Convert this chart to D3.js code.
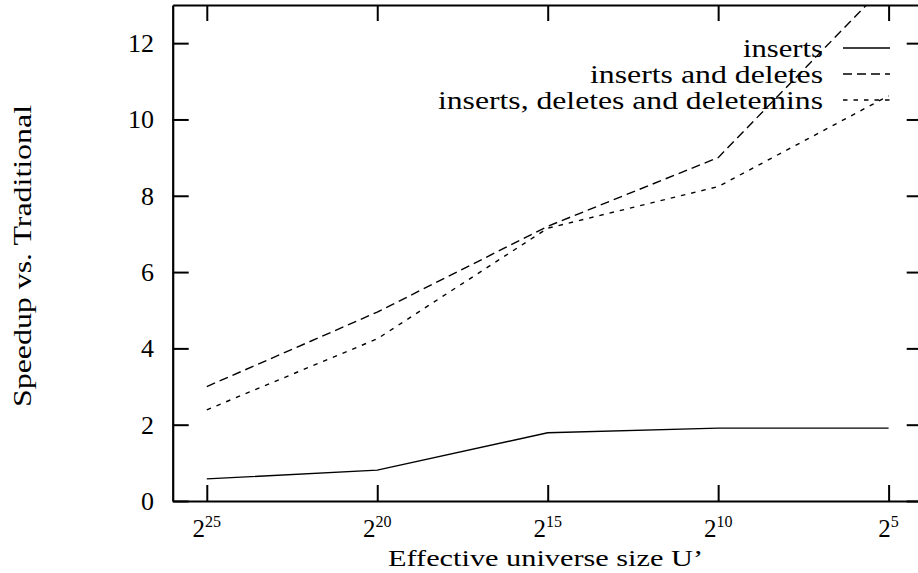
<!DOCTYPE html>
<html>
<head>
<meta charset="utf-8">
<script src="https://cdn.jsdelivr.net/npm/d3@7"></script>
<style>
  body { margin: 0; background: #fff; }
</style>
</head>
<body>
<svg id="chart" width="918" height="573"></svg>
<script>
// x positions are log2 of universe size
var exponents = [25, 20, 15, 10, 5];
var yTicks = [0, 2, 4, 6, 8, 10, 12];

var inserts = [0.58, 0.81, 1.79, 1.91, 1.91];
var insertsDeletes = [3.0, 4.95, 7.2, 9.0, 13.6];
var insertsDeletesMins = [2.39, 4.25, 7.15, 8.24, 10.62];

var seriesNames = ["inserts", "inserts and deletes", "inserts, deletes and deletemins"];
var seriesDash = [null, "9,5", "4.5,6"];

var FONT = "'Liberation Serif', 'Times New Roman', Times, 'DejaVu Serif', serif";

var margin = { left: 172.7, right: 922.7, top: 5, bottom: 501 };

var svg = d3.select("#chart");

var x = d3.scaleLinear().domain([26, 4]).range([margin.left, margin.right]);
var y = d3.scaleLinear().domain([0, 13]).range([margin.bottom, margin.top]);

svg.append("clipPath").attr("id", "plotclip")
  .append("rect")
  .attr("x", margin.left).attr("y", margin.top)
  .attr("width", margin.right - margin.left)
  .attr("height", margin.bottom - margin.top);

// axes, ticks pointing inward
var xAxisB = d3.axisBottom(x).tickValues(exponents).tickSizeInner(-16).tickSizeOuter(0).tickFormat("");
var xAxisT = d3.axisTop(x).tickValues(exponents).tickSizeInner(-16).tickSizeOuter(0).tickFormat("");
var yAxisL = d3.axisLeft(y).tickValues(yTicks).tickSizeInner(-16).tickSizeOuter(0).tickFormat("");
var yAxisR = d3.axisRight(y).tickValues(yTicks).tickSizeInner(-16).tickSizeOuter(0).tickFormat("");

function styleAxis(g) {
  g.selectAll("path, line").attr("stroke", "#000").attr("stroke-width", 2);
  g.select(".domain").attr("stroke-width", 2.2);
}

svg.append("g").attr("transform", "translate(0," + margin.bottom + ")").call(xAxisB).call(styleAxis);
svg.append("g").attr("transform", "translate(0," + margin.top + ")").call(xAxisT).call(styleAxis);
svg.append("g").attr("transform", "translate(" + margin.left + ",0)").call(yAxisL).call(styleAxis);
svg.append("g").attr("transform", "translate(" + margin.right + ",0)").call(yAxisR).call(styleAxis);

// x tick labels 2^n
exponents.forEach(function (e) {
  var t = svg.append("text")
    .attr("x", x(e))
    .attr("y", 537)
    .attr("text-anchor", "middle")
    .attr("font-family", FONT)
    .attr("font-size", 25);
  t.append("tspan").text("2");
  t.append("tspan").attr("dy", -10).attr("font-size", 16).text(e);
});

// y tick labels
yTicks.forEach(function (v) {
  svg.append("text")
    .attr("x", 154)
    .attr("y", y(v) + 9)
    .attr("text-anchor", "end")
    .attr("font-family", FONT)
    .attr("font-size", 26)
    .text(v);
});

// axis titles (stretched a bit, the original font is wider)
svg.append("text")
  .attr("x", 388)
  .attr("y", 566)
  .attr("font-family", FONT)
  .attr("font-size", 24)
  .attr("textLength", 315)
  .attr("lengthAdjust", "spacingAndGlyphs")
  .text("Effective universe size U’");

svg.append("text")
  .attr("transform", "translate(31,407) rotate(-90)")
  .attr("font-family", FONT)
  .attr("font-size", 26)
  .attr("textLength", 302)
  .attr("lengthAdjust", "spacingAndGlyphs")
  .text("Speedup vs. Traditional");

// data lines
var line = d3.line()
  .x(function (d, i) { return x(exponents[i]); })
  .y(function (d) { return y(d); });

var allSeries = [inserts, insertsDeletes, insertsDeletesMins];

var plot = svg.append("g").attr("clip-path", "url(#plotclip)");
allSeries.forEach(function (s, i) {
  plot.append("path")
    .datum(s)
    .attr("d", line)
    .attr("fill", "none")
    .attr("stroke", "#000")
    .attr("stroke-width", 1.4)
    .attr("stroke-dasharray", seriesDash[i]);
});

// legend
var legendStart = [743, 590, 438];
seriesNames.forEach(function (n, i) {
  var ly = 48 + i * 26;
  svg.append("text")
    .attr("x", legendStart[i])
    .attr("y", ly + 9)
    .attr("font-family", FONT)
    .attr("font-size", 26)
    .attr("textLength", 823 - legendStart[i])
    .attr("lengthAdjust", "spacingAndGlyphs")
    .text(n);
  svg.append("line")
    .attr("x1", 843).attr("x2", 890)
    .attr("y1", ly).attr("y2", ly)
    .attr("stroke", "#000")
    .attr("stroke-width", 1.4)
    .attr("stroke-dasharray", seriesDash[i]);
});
</script>
</body>
</html>
